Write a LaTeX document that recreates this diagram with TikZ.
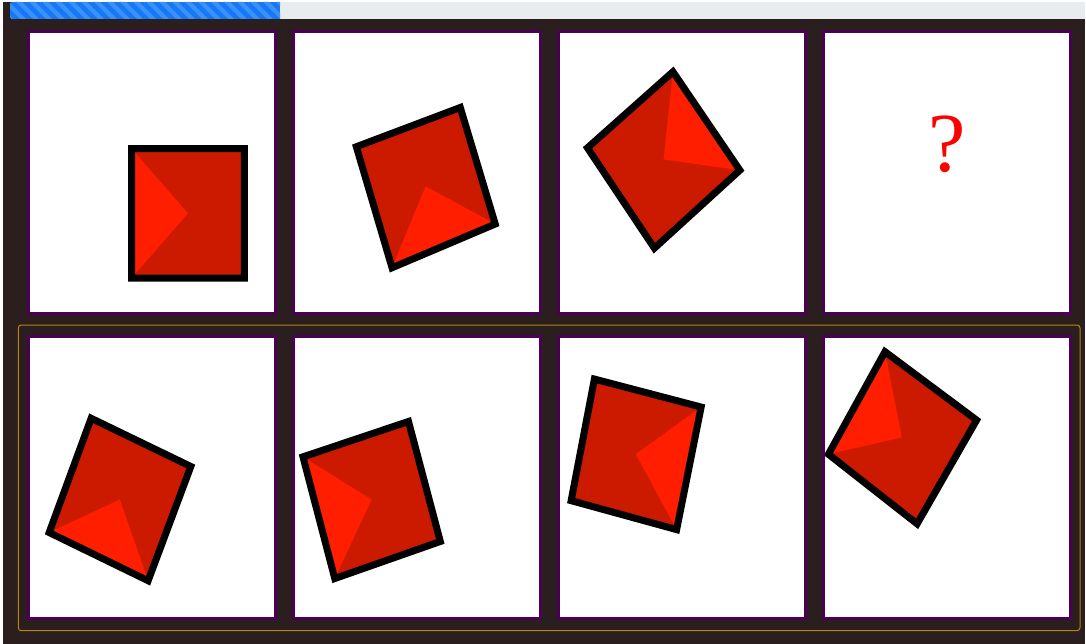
\documentclass[tikz,border=0pt]{standalone}
\usepackage{fontspec}
\newfontfamily\qfont{Liberation Serif}
\usetikzlibrary{calc}

\definecolor{stage}{RGB}{43,30,30}
\definecolor{frame}{RGB}{75,0,85}
\definecolor{goldline}{RGB}{184,134,11}
\definecolor{tiledark}{RGB}{204,26,0}
\definecolor{tilebright}{RGB}{255,30,0}
\definecolor{barblue}{RGB}{22,120,245}
\definecolor{barstripe}{RGB}{58,145,250}
\definecolor{bargray}{RGB}{232,236,239}

\begin{document}
\begin{tikzpicture}[
    x=1pt, y=-1pt,
    panel/.style={
        draw=frame,
        line width=3pt,
        fill=white
    },
    tileface/.style={
        fill=tiledark
    },
    tilelight/.style={
        fill=tilebright
    },
    tileedge/.style={
        draw=black,
        line width=7pt,
        line join=miter
    },
    qmark/.style={
        font=\qfont\fontsize{84}{84}\selectfont,
        text=red,
        inner sep=0pt
    }
]

\useasboundingbox (0,0) rectangle (1086,644);
\fill[white] (0,0) rectangle (1086,644);
\fill[stage] (3,2) rectangle (1085,644);

% progress bar
\begin{scope}
    \clip (10,2) rectangle (1085,19);
    \clip[rounded corners=3pt] (10,2) rectangle (1095,19);
    \fill[bargray] (10,2) rectangle (1085,19);
    \fill[barblue] (10,2) rectangle (280,19);
    \clip (10,2) rectangle (280,19);
    \foreach \s in {-10,3,...,290}
        \fill[barstripe] (\s,2) -- ++(6,0) -- ++(17,17) -- ++(-6,0) -- cycle;
\end{scope}

% answer row
\draw[goldline, line width=1pt, rounded corners=3pt] (18.3,325) rectangle (1080,630.7);

\foreach \i in {0,...,3}
    \foreach \y in {31.5,336.5}
        \fill[white] (28.8+265*\i,\y) rectangle ++(247,282);

% tiles: centre / corners, the bright side first
\foreach \c/\p/\q/\r/\s in {
    {188,213.3}/{129.3,146}/{129.3,280.7}/{246.7,280.7}/{246.7,146},
    {425.6,186.3}/{390.7,271}/{498.3,225.7}/{461.7,104.3}/{353.3,145},
    {663.6,159.5}/{673.3,68.3}/{743.3,170.7}/{654,251.7}/{584,147.3},
    {119.8,499.5}/{46,534}/{149.3,584}/{194,465}/{90,415},
    {371.6,499.6}/{300,455}/{333.3,581.7}/{443.3,543.3}/{410,418.3},
    {635.8,454.1}/{704,405}/{678.3,532.7}/{568.3,502.7}/{592.7,376},
    {901.8,437.5}/{884.3,348.3}/{825,455}/{917.7,527.3}/{980,419.3}}
{
    \coordinate (c) at (\c);
    \coordinate (p) at ($(\p)!3.5pt!(c)$);
    \coordinate (q) at ($(\q)!3.5pt!(c)$);
    \coordinate (r) at ($(\r)!3.5pt!(c)$);
    \coordinate (s) at ($(\s)!3.5pt!(c)$);
    \fill[tileface] (p) -- (q) -- (r) -- (s) -- cycle;
    \fill[tilelight] (p) -- (q) -- (c) -- cycle;
    \draw[tileedge] (p) -- (q) -- (r) -- (s) -- cycle;
}

\node[qmark] (ask) at (947.5,144) {?};

\foreach \i in {0,...,3}
    \foreach \y in {31.5,336.5}
        \draw[panel, fill=none] (28.8+265*\i,\y) rectangle ++(247,282);

\end{tikzpicture}
\end{document}
